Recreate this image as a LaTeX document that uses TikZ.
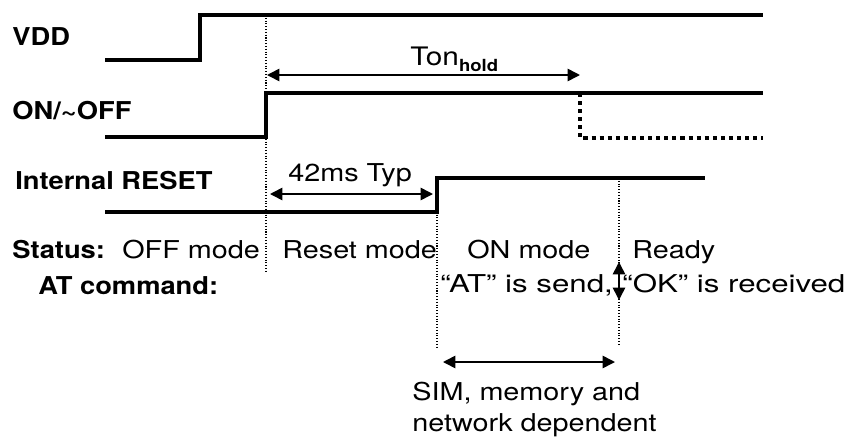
\documentclass[tikz,border=0pt]{standalone}
\usepackage{fontspec}
\setmainfont{TeX Gyre Heros}[FakeStretch=1.17,BoldFeatures={FakeStretch=1.11}]
\newfontfamily\widefont{TeX Gyre Heros}[FakeStretch=1.27]
\usetikzlibrary{arrows.meta}
\tikzset{%
	sig/.style={line width=2.3pt},
	marker/.style={line width=0.6pt,densely dotted},
	span/.style={line width=0.9pt,{Triangle[length=7pt,width=7pt]}-{Triangle[length=7pt,width=7pt]}},
	txt/.style={anchor=base west,inner sep=0pt,font=\fontsize{14}{17.5}\selectfont},
	tag/.style={txt,font=\fontsize{14}{17.5}\selectfont\bfseries},
	reply/.style={txt,font=\fontsize{14}{17.5}\selectfont\widefont}
}

\begin{document}
\begin{tikzpicture}[x=0.02cm,y=-0.02cm]
	\useasboundingbox (0,0) rectangle (846,440);
	% signal names
	\node [tag] (vdd) at (12,45) {VDD};
	\node [tag] (onoff) at (12,119) {ON/\textasciitilde OFF};
	\node [tag] (rst) at (15,189) {Internal RESET};
	\node [tag] (status) at (12,258) {Status:};
	\node [tag] (atcmd) at (38,294) {AT command:};
	% waveforms
	\draw [sig] (105,60) -| (200,15) -- (763,15);
	\draw [sig] (105,137) -| (266,93) -- (763,93);
	\draw [sig,dash pattern=on 2.3pt off 2.3pt] (580,93) |- (763,138);
	\draw [sig] (105,212) -| (437,178) -- (705,178);
	% time marks
	\coordinate (m1) at (266,15);
	\coordinate (m2) at (437,178);
	\coordinate (m3) at (619,178);
	\draw [marker] (m1) -- ++(0,257);
	\draw [marker] (m2) -- ++(0,170);
	\draw [marker] (m3) -- ++(0,167);
	% spans
	\coordinate (ton-a) at (267,75);
	\coordinate (ton-b) at (580,75);
	\draw [span] (ton-a) -- (ton-b);
	\node [txt,font=\fontsize{14.5}{17}\selectfont] (ton) at (410,65) {Ton\raisebox{-3.5pt}{\fontsize{9.5}{9}\selectfont\bfseries hold}};
	\coordinate (typ-a) at (270,194);
	\coordinate (typ-b) at (433,194);
	\draw [span] (typ-a) -- (typ-b);
	\node [txt] (typ) at (288,181) {42ms Typ};
	\coordinate (ok-a) at (619,262);
	\coordinate (ok-b) at (619,300);
	\draw [span] (ok-a) -- (ok-b);
	\coordinate (dep-a) at (443,362);
	\coordinate (dep-b) at (615,362);
	\draw [span] (dep-a) -- (dep-b);
	% status row
	\node [txt] (off) at (122,258) {OFF mode};
	\node [txt] (reset) at (282,258) {Reset mode};
	\node [txt] (on) at (467,258) {ON mode};
	\node [txt] (ready) at (632,258) {Ready};
	% AT command row
	\node [reply] (send) at (440,292) {“AT” is send,};
	\node [reply] (recv) at (622,292) {“OK” is received};
	\node [txt,align=left,anchor=base west] (dep) at (412,431) {SIM, memory and\\network dependent};
\end{tikzpicture}
\end{document}
